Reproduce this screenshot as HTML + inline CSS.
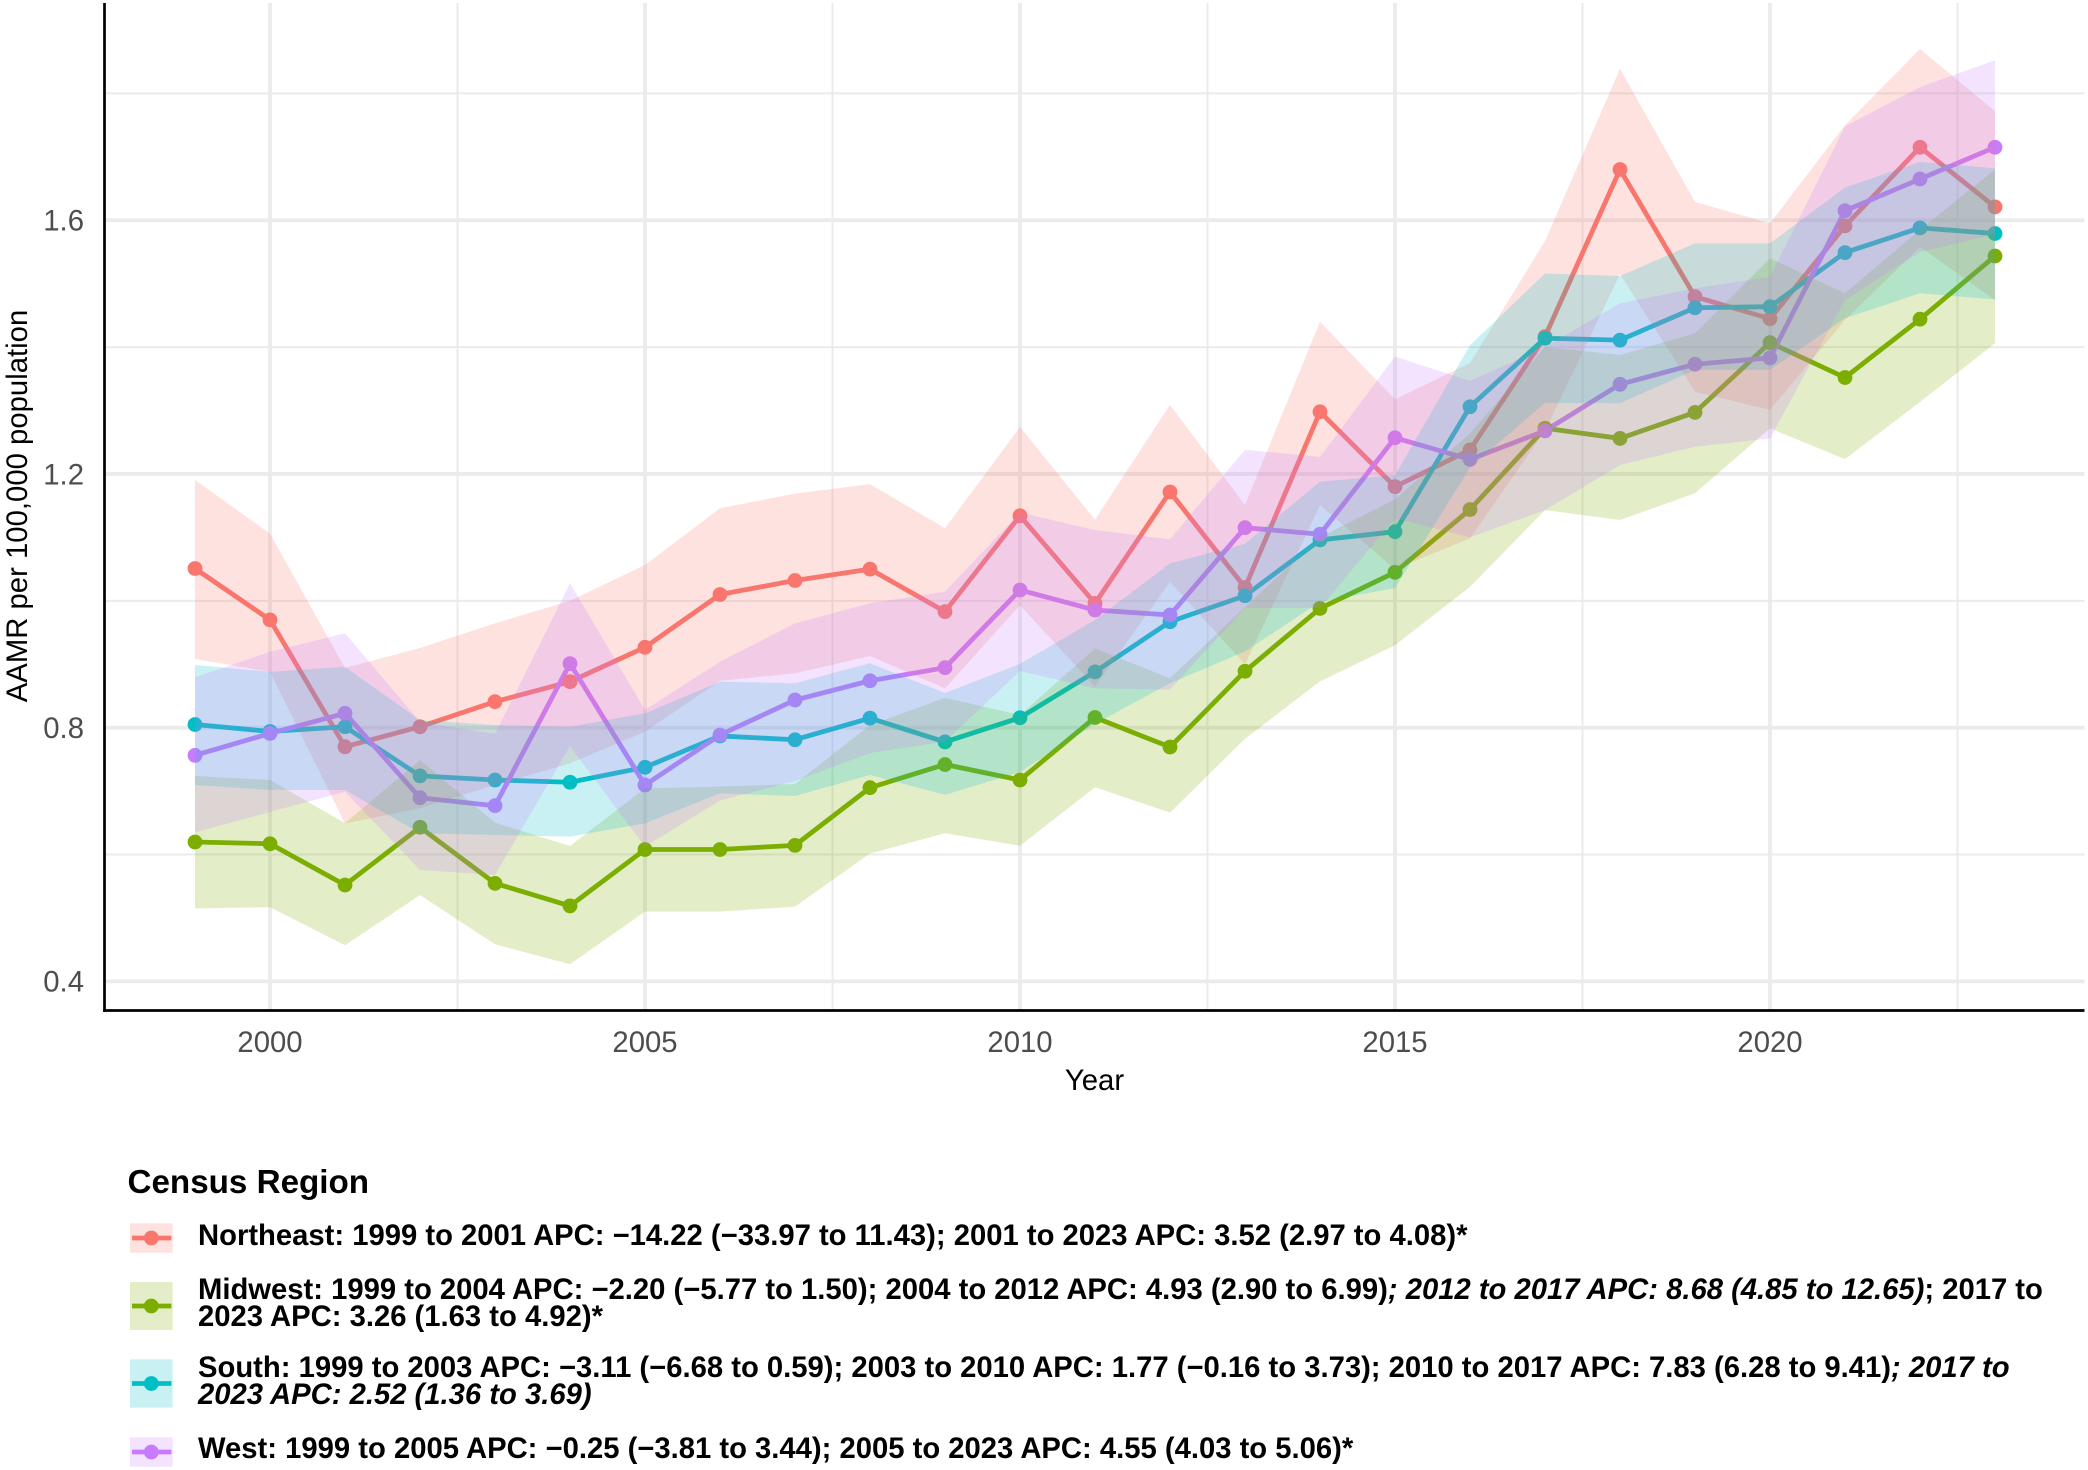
<!DOCTYPE html>
<html lang="en">
<head>
<meta charset="utf-8">
<title>AAMR per 100,000 population by Census Region</title>
<style>
  html, body { margin: 0; padding: 0; background: #fff; }
  body { width: 2088px; height: 1470px; overflow: hidden; }
  svg { display: block; font-family: "Liberation Sans", sans-serif; }
  .legend-text { font-size: 29.22px; font-weight: 700; fill: #000; }
  .tick { font-size: 29.3px; fill: #4D4D4D; }
  .axis-title { font-size: 29.3px; fill: #000; }
</style>
</head>
<body>
<svg id="chart" xmlns="http://www.w3.org/2000/svg" width="2088" height="1470" viewBox="0 0 2088 1470">
  <rect x="0" y="0" width="2088" height="1470" fill="#ffffff"/>
  <g id="grid"></g>
  <g id="lines"></g>
  <g id="points"></g>
  <g id="ribbons"></g>
  <g id="axes"></g>
  <text class="axis-title" text-anchor="middle" transform="translate(26.8,506) rotate(-90)">AAMR per 100,000 population</text>
  <text class="axis-title" text-anchor="middle" x="1094.5" y="1090">Year</text>

  <g>
    <text x="127.5" y="1193" font-size="33.2" font-weight="700" fill="#000">Census Region</text>
    <g id="legend-keys"></g>
    <text class="legend-text" x="198" y="1245">Northeast: 1999 to 2001 APC: −14.22 (−33.97 to 11.43); 2001 to 2023 APC: 3.52 (2.97 to 4.08)*</text>
    <text class="legend-text" y="1299"><tspan x="198">Midwest: 1999 to 2004 APC: −2.20 (−5.77 to 1.50); 2004 to 2012 APC: 4.93 (2.90 to 6.99)</tspan><tspan font-style="italic">; 2012 to 2017 APC: 8.68 (4.85 to 12.65)</tspan><tspan>; 2017 to</tspan><tspan x="198" y="1326">2023 APC: 3.26 (1.63 to 4.92)*</tspan></text>
    <text class="legend-text" y="1377"><tspan x="198">South: 1999 to 2003 APC: −3.11 (−6.68 to 0.59); 2003 to 2010 APC: 1.77 (−0.16 to 3.73); 2010 to 2017 APC: 7.83 (6.28 to 9.41)</tspan><tspan font-style="italic">; 2017 to</tspan><tspan x="198" y="1404" font-style="italic">2023 APC: 2.52 (1.36 to 3.69)</tspan></text>
    <text class="legend-text" x="198" y="1458">West: 1999 to 2005 APC: −0.25 (−3.81 to 3.44); 2005 to 2023 APC: 4.55 (4.03 to 5.06)*</text>
  </g>
</svg>

<script>
const years = [1999,2000,2001,2002,2003,2004,2005,2006,2007,2008,2009,2010,2011,2012,2013,2014,2015,2016,2017,2018,2019,2020,2021,2022,2023];
const xTickLabels = [2000,2005,2010,2015,2020];
const xMinorTicks = [2002.5,2007.5,2012.5,2017.5,2022.5];
const yTickLabels = [0.4,0.8,1.2,1.6];
const yMinorTicks = [0.6,1.0,1.4,1.8];

const seriesNames = ["northeast","midwest","south","west"];
const seriesColors = ["#F8766D","#7CAE00","#00BFC4","#C77CFF"];

const northeastRate = [1.051,0.970,0.770,0.8015,0.841,0.8725,0.9267,1.010,1.032,1.050,0.983,1.134,0.996,1.1716,1.021,1.298,1.180,1.238,1.4165,1.680,1.4795,1.4447,1.591,1.715,1.621];
const northeastUpper = [1.1905,1.106,0.894,0.9256,0.9645,1.0,1.0565,1.146,1.169,1.184,1.1145,1.274,1.128,1.309,1.151,1.44,1.3177,1.375,1.567,1.8387,1.629,1.595,1.75,1.87,1.772];
const northeastLower = [0.9085,0.888,0.649,0.673,0.7096,0.7438,0.7937,0.874,0.8857,0.913,0.862,0.993,0.8646,1.03,0.90,1.151,1.05,1.0985,1.268,1.515,1.3297,1.3008,1.4427,1.558,1.474];

const midwestRate = [0.6198,0.617,0.552,0.643,0.5546,0.519,0.608,0.608,0.6145,0.7054,0.742,0.7175,0.816,0.7695,0.889,0.988,1.045,1.144,1.272,1.256,1.297,1.407,1.352,1.444,1.5436];
const midwestUpper = [0.7238,0.7175,0.6495,0.749,0.6502,0.6134,0.7044,0.707,0.7112,0.804,0.847,0.82,0.925,0.878,0.99,1.10,1.16,1.264,1.40,1.3876,1.4216,1.54,1.4848,1.585,1.68];
const midwestLower = [0.5152,0.5168,0.457,0.536,0.4585,0.427,0.51,0.51,0.5178,0.6017,0.6336,0.6138,0.706,0.666,0.7826,0.873,0.93,1.022,1.143,1.1274,1.1695,1.272,1.2233,1.3135,1.406];

const southRate = [0.805,0.794,0.8015,0.724,0.7175,0.714,0.7375,0.787,0.781,0.815,0.7775,0.8157,0.888,0.967,1.008,1.096,1.109,1.306,1.414,1.411,1.462,1.4637,1.549,1.588,1.579];
const southUpper = [0.8988,0.888,0.896,0.812,0.8042,0.8015,0.8227,0.8725,0.87,0.9015,0.8546,0.9005,0.97,1.059,1.09,1.188,1.198,1.403,1.516,1.512,1.5636,1.5636,1.6516,1.692,1.682];
const southLower = [0.7096,0.7018,0.7018,0.6335,0.6308,0.6282,0.6492,0.6965,0.6923,0.7254,0.694,0.73,0.806,0.87,0.92,0.9986,1.02,1.21,1.312,1.3114,1.364,1.364,1.4454,1.4848,1.475];

const westRate = [0.7564,0.791,0.8227,0.6896,0.677,0.901,0.7096,0.7885,0.8436,0.874,0.8946,1.017,0.9855,0.9776,1.1153,1.105,1.257,1.223,1.268,1.3413,1.373,1.383,1.615,1.665,1.715];
const westUpper = [0.8794,0.9198,0.9488,0.8094,0.79,1.0276,0.828,0.904,0.9645,0.9961,1.0144,1.139,1.1116,1.097,1.238,1.227,1.385,1.3466,1.40,1.469,1.4927,1.511,1.748,1.81,1.852];
const westLower = [0.635,0.667,0.699,0.5756,0.5677,0.771,0.6124,0.685,0.716,0.76,0.778,0.8893,0.862,0.86,0.9886,0.9886,1.13,1.10,1.143,1.214,1.243,1.256,1.474,1.55,1.578];

const rates = [northeastRate, midwestRate, southRate, westRate];
const uppers = [northeastUpper, midwestUpper, southUpper, westUpper];
const lowers = [northeastLower, midwestLower, southLower, westLower];

const NS = "http://www.w3.org/2000/svg";
const PLOT_LEFT = 104.5, PLOT_RIGHT = 2084.5, PLOT_TOP = 3, PLOT_BOTTOM = 1010.5;
const GRID = "#EBEBEB";
const RIBBON_ALPHA = 0.21;

function xScale(year) { return 195 + (year - 1999) * 75; }
function yScale(v) { return 981.4 - (v - 0.4) * 634.3; }

function make(tag, attrs, parent) {
  const el = document.createElementNS(NS, tag);
  for (const k in attrs) el.setAttribute(k, attrs[k]);
  parent.appendChild(el);
  return el;
}

const gridG = document.getElementById("grid");
const linesG = document.getElementById("lines");
const pointsG = document.getElementById("points");
const ribbonsG = document.getElementById("ribbons");
const axesG = document.getElementById("axes");
const keysG = document.getElementById("legend-keys");

yMinorTicks.forEach(v => {
  const el = make("line", {x1: PLOT_LEFT, x2: PLOT_RIGHT, y1: yScale(v), y2: yScale(v), stroke: GRID, "stroke-width": 2}, gridG);
  
  
});
xMinorTicks.forEach(v => {
  const el = make("line", {x1: xScale(v), x2: xScale(v), y1: PLOT_TOP, y2: PLOT_BOTTOM, stroke: GRID, "stroke-width": 2}, gridG);
  
  
});
yTickLabels.forEach(v => {
  const el = make("line", {x1: PLOT_LEFT, x2: PLOT_RIGHT, y1: yScale(v), y2: yScale(v), stroke: GRID, "stroke-width": 3.8}, gridG);
  
  
});
xTickLabels.forEach(v => {
  const el = make("line", {x1: xScale(v), x2: xScale(v), y1: PLOT_TOP, y2: PLOT_BOTTOM, stroke: GRID, "stroke-width": 3.8}, gridG);
  
  
});

seriesNames.forEach((name, s) => {
  const d = years.map((yr, i) => (i ? "L" : "M") + xScale(yr) + " " + yScale(rates[s][i]).toFixed(2)).join(" ");
  const path = make("path", {d: d, fill: "none", stroke: seriesColors[s], "stroke-width": 4.8, "stroke-linejoin": "round", "stroke-linecap": "butt"}, linesG);
  
  
});

seriesNames.forEach((name, s) => {
  years.forEach((yr, i) => {
    const c = make("circle", {cx: xScale(yr), cy: yScale(rates[s][i]).toFixed(2), r: 7.4, fill: seriesColors[s]}, pointsG);
    
    
  });
});

seriesNames.forEach((name, s) => {
  const top = years.map((yr, i) => xScale(yr) + " " + yScale(uppers[s][i]).toFixed(2));
  const bottom = years.map((yr, i) => xScale(yr) + " " + yScale(lowers[s][i]).toFixed(2)).reverse();
  const d = "M" + top.join(" L") + " L" + bottom.join(" L") + " Z";
  const path = make("path", {d: d, fill: seriesColors[s], "fill-opacity": RIBBON_ALPHA, stroke: "none"}, ribbonsG);
  
  
});

const yAxisLine = make("line", {x1: PLOT_LEFT, x2: PLOT_LEFT, y1: PLOT_TOP, y2: PLOT_BOTTOM + 1.4, stroke: "#000", "stroke-width": 2.7}, axesG);


const xAxisLine = make("line", {x1: PLOT_LEFT - 1.35, x2: PLOT_RIGHT, y1: PLOT_BOTTOM, y2: PLOT_BOTTOM, stroke: "#000", "stroke-width": 2.7}, axesG);



yTickLabels.forEach(v => {
  const t = make("text", {x: 84, y: yScale(v) + 10.3, "text-anchor": "end", class: "tick"}, axesG);
  
  
  t.textContent = v.toFixed(1);
});
xTickLabels.forEach(v => {
  const t = make("text", {x: xScale(v), y: 1052, "text-anchor": "middle", class: "tick"}, axesG);
  
  
  t.textContent = v;
});

const keyTops = [1223.3, 1282, 1359.3, 1437.3];
const keyBottoms = [1252.7, 1330, 1407.7, 1466.7];
seriesNames.forEach((name, s) => {
  const g = make("g", {}, keysG);
  
  
  make("rect", {x: 130, y: keyTops[s], width: 42.7, height: keyBottoms[s] - keyTops[s], fill: seriesColors[s], "fill-opacity": RIBBON_ALPHA}, g);
  const cy = (keyTops[s] + keyBottoms[s]) / 2;
  make("line", {x1: 132, x2: 171.4, y1: cy, y2: cy, stroke: seriesColors[s], "stroke-width": 4.8}, g);
  make("circle", {cx: 151.3, cy: cy, r: 7.4, fill: seriesColors[s]}, g);
});
</script>
</body>
</html>
